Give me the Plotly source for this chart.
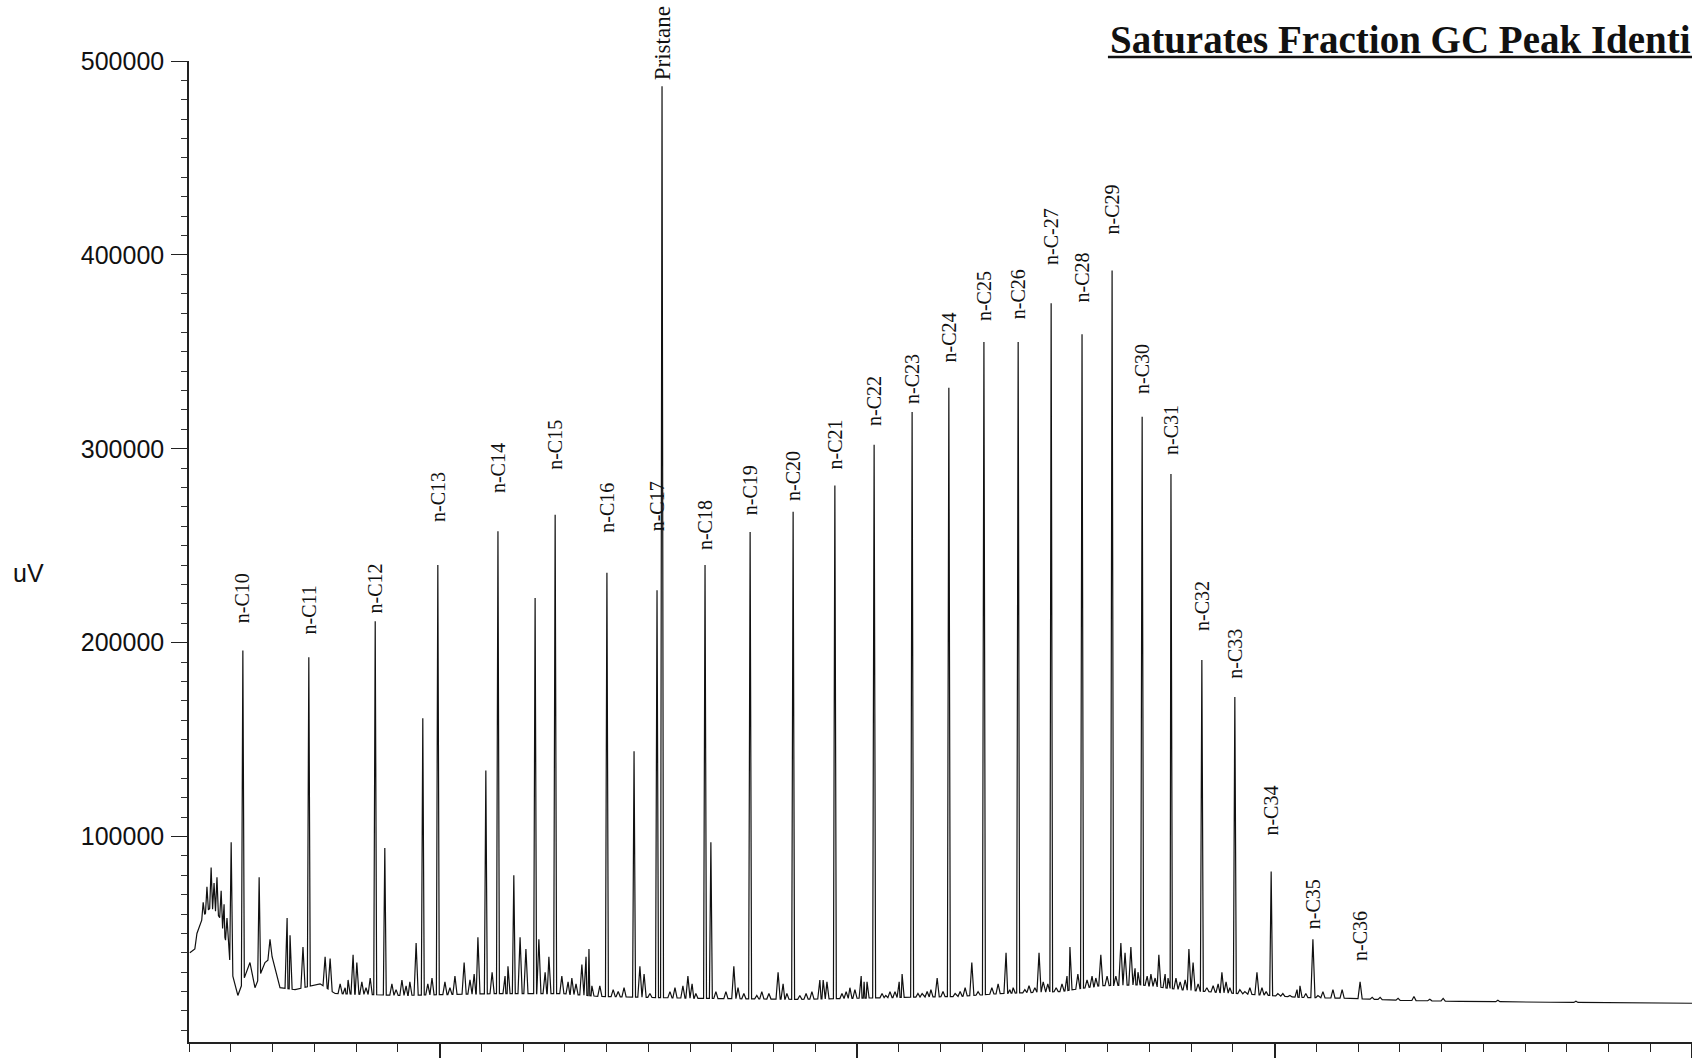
import numpy as np
import plotly.graph_objects as go

# ---------------- data ----------------
# labelled peaks: retention time (min) and height (uV)
peak_labels = ["n-C10", "n-C11", "n-C12", "n-C13", "n-C14", "n-C15", "n-C16", "n-C17",
               "Pristane", "n-C18", "n-C19", "n-C20", "n-C21", "n-C22", "n-C23", "n-C24",
               "n-C25", "n-C26", "n-C-27", "n-C28", "n-C29", "n-C30", "n-C31", "n-C32",
               "n-C33", "n-C34", "n-C35", "n-C36"]
peak_rt = [5.29, 6.87, 8.46, 9.96, 11.40, 12.77, 14.01, 15.21,
           15.33, 16.36, 17.44, 18.47, 19.47, 20.41, 21.32, 22.20,
           23.04, 23.86, 24.65, 25.39, 26.11, 26.83, 27.52, 28.26,
           29.05, 29.92, 30.92, 32.05]
peak_height = [196000, 192500, 211000, 240000, 257500, 266000, 236000, 227000,
               487000, 240000, 257000, 267500, 281000, 302000, 319000, 331500,
               355000, 355000, 375000, 359000, 392000, 316500, 287000, 191000,
               172000, 82000, 47000, 25000]

# unlabelled peaks (retention time, height)
other_rt = [4.19, 4.34, 4.43, 4.53, 4.60, 4.67, 4.77, 4.84, 4.91, 5.01, 5.68, 5.94, 6.35, 6.42,
            6.73, 7.26, 7.38, 7.62, 7.74, 7.81, 7.93, 8.02, 8.14, 8.24, 8.34, 8.69, 8.86, 8.96,
            9.10, 9.20, 9.29, 9.44, 9.60, 9.72, 9.82, 10.13, 10.25, 10.37, 10.59, 10.73, 10.83,
            10.92, 11.11, 11.26, 11.57, 11.64, 11.78, 11.93, 12.07, 12.29, 12.38, 12.53, 12.62,
            12.93, 13.08, 13.17, 13.27, 13.41, 13.51, 13.58, 13.65, 13.84, 14.16, 14.28, 14.42,
            14.66, 14.80, 14.90, 15.04, 15.52, 15.64, 15.83, 15.95, 16.05, 16.14, 16.50, 16.62,
            16.86, 17.05, 17.15, 17.29, 17.60, 17.72, 17.89, 18.11, 18.23, 18.32, 18.63, 18.78,
            18.92, 19.11, 19.19, 19.28, 19.64, 19.74, 19.83, 19.95, 20.10, 20.17, 20.24, 20.60,
            20.69, 20.79, 20.91, 21.01, 21.08, 21.46, 21.56, 21.68, 21.77, 21.92, 22.06, 22.35,
            22.47, 22.59, 22.75, 22.90, 23.23, 23.38, 23.57, 23.66, 23.74, 24.02, 24.12, 24.26,
            24.36, 24.46, 24.57, 24.77, 24.91, 25.03, 25.10, 25.29, 25.51, 25.63, 25.72, 25.84,
            25.99, 26.20, 26.32, 26.42, 26.56, 26.66, 26.73, 26.95, 27.04, 27.14, 27.23, 27.38,
            27.45, 27.64, 27.74, 27.86, 27.95, 28.05, 28.17, 28.38, 28.53, 28.65, 28.74, 28.84,
            28.93, 29.17, 29.29, 29.41, 29.58, 29.70, 29.80, 30.08, 30.20, 30.37, 30.54, 30.61,
            30.75, 31.04, 31.16, 31.40, 31.62, 32.34, 32.53, 32.96, 33.34, 33.72, 34.04, 35.35,
            37.22]
other_height = [50000, 66000, 74000, 84000, 76000, 79000, 72000, 65000, 58000, 97000, 79000, 47000, 58000, 49000,
                43000, 38000, 37000, 24000, 22000, 26000, 39000, 35000, 25000, 22000, 27000, 94000, 24000, 21000,
                26000, 23000, 25000, 45000, 161000, 24000, 27000, 25000, 22000, 28000, 35000, 26000, 29000,
                48000, 134000, 30000, 28000, 33000, 80000, 48000, 42000, 223000, 47000, 30000, 38000,
                28000, 25000, 27000, 24000, 34000, 38000, 42000, 23000, 23000, 21000, 20000, 22000,
                144000, 33000, 29000, 19000, 20000, 22000, 23000, 28000, 24000, 19000, 97000, 20000,
                20000, 33000, 22000, 19000, 18000, 20000, 19000, 30000, 24000, 19000, 18000, 19000,
                20000, 26000, 26000, 25000, 19000, 20000, 22000, 21000, 28000, 25000, 25000, 19000,
                18000, 20000, 20000, 25000, 29000, 19000, 19000, 20000, 21000, 27000, 20000, 19000,
                20000, 22000, 35000, 20000, 22000, 24000, 40000, 21000, 22000, 21000, 23000, 22000,
                40000, 25000, 24000, 22000, 24000, 28000, 43000, 29000, 26000, 28000, 27000, 39000,
                28000, 28000, 45000, 40000, 43000, 32000, 30000, 28000, 29000, 27000, 39000, 29000,
                27000, 27000, 25000, 26000, 42000, 35000, 24000, 22000, 23000, 24000, 30000, 25000,
                22000, 21000, 20000, 22000, 30000, 22000, 20000, 19000, 19000, 18000, 21000, 23000,
                19000, 18000, 20000, 21000, 21000, 17000, 17000, 16500, 17500, 16000, 16500, 15500,
                15000]

# baseline level of the trace (retention time, uV)
base_rt = [4.02, 4.14, 4.26, 4.38, 4.50, 4.62, 4.74, 4.86, 4.96, 5.05, 5.17, 5.46, 5.58, 5.82,
           5.99, 6.18, 6.54, 7.14, 7.50, 9.05, 11.45, 12.89, 13.84, 16.24, 18.63, 21.03, 22.47,
           23.43, 24.86, 25.82, 26.78, 27.74, 28.69, 29.89, 30.61, 31.81, 33.01, 34.44, 36.60, 40.00]
base_level = [40000, 42000, 55000, 60000, 63000, 62000, 58000, 48000, 38000, 28000, 18000, 35000,
              22000, 35000, 38000, 22000, 21000, 24000, 19000, 18000, 19000, 19000, 17500, 16500,
              16000, 17000, 17500, 19000, 20000, 23000, 23500, 21000, 19500, 18000, 17000, 16500,
              15500, 15000, 14500, 14000]

y_tick_values = [100000, 200000, 300000, 400000, 500000]

# ---------------- build the trace path ----------------
all_rt = np.array(peak_rt + other_rt, dtype=float)
all_h = np.array(peak_height + other_height, dtype=float)
half_w = np.where(all_h > 60000, 0.035, 0.05)
b_rt = np.array(base_rt, dtype=float)
b_lv = np.array(base_level, dtype=float)

pts = []
for t, v in zip(b_rt, b_lv):
    if np.all(np.abs(t - all_rt) > half_w):
        pts.append((t, v))
for t, h, w in zip(all_rt, all_h, half_w):
    pts.append((t - w, float(np.interp(t - w, b_rt, b_lv))))
    pts.append((t, h))
    pts.append((t + w, float(np.interp(t + w, b_rt, b_lv))))
pts.sort(key=lambda p: p[0])
xs = [p[0] for p in pts if 4.0 <= p[0] <= 40.0]
ys = [p[1] for p in pts if 4.0 <= p[0] <= 40.0]

fig = go.Figure()
fig.add_trace(go.Scatter(x=xs, y=ys, mode="lines",
                         line=dict(color="#111111", width=1.2),
                         hoverinfo="skip", showlegend=False))

label_shift = [25, 21, 6, 41, 36, 43, 38, 57, 4, 13, 15, 9, 14, 17, 6, 23,
               19, 21, 36, 30, 34, 21, 17, 27, 16, 34, 8, 19]
for lab, t, h, s in zip(peak_labels, peak_rt, peak_height, label_shift):
    fig.add_annotation(x=t, y=h, text=lab, textangle=-90, showarrow=False,
                       xanchor="center", yanchor="bottom", yshift=s,
                       font=dict(family="Liberation Serif", size=23 if lab == "Pristane" else 20,
                                 color="#111111"))

# title (as much of it as the scan shows)
fig.add_annotation(xref="paper", yref="paper", x=0.6114, y=1.0224, xanchor="left",
                   yanchor="middle", showarrow=False,
                   text="<b>Saturates Fraction GC Peak Identi</b>",
                   font=dict(family="Liberation Serif", size=39, color="#111111"))
fig.add_shape(type="line", xref="paper", yref="paper", x0=0.6114, x1=1.0, y0=1.004, y1=1.004,
              line=dict(color="#111111", width=2.5))

# y axis unit label
fig.add_annotation(xref="paper", yref="paper", x=-0.1184, y=0.478, xanchor="left",
                   yanchor="middle", showarrow=False, text="uV",
                   font=dict(family="Liberation Sans", size=25, color="#111111"))

fig.update_layout(
    width=1692, height=1058,
    margin=dict(l=189, r=0, t=61, b=16),
    paper_bgcolor="white", plot_bgcolor="white",
    showlegend=False,
    xaxis=dict(range=[4, 40], showgrid=False, zeroline=False,
               showline=True, linecolor="#222222", linewidth=1.5,
               ticks="outside", tick0=0, dtick=10, ticklen=16, tickcolor="#222222", tickwidth=1.5,
               showticklabels=False,
               minor=dict(ticks="outside", tick0=0, dtick=1, ticklen=8,
                          tickcolor="#222222", tickwidth=1.2)),
    yaxis=dict(range=[-6000, 500000], showgrid=False, zeroline=False,
               showline=True, linecolor="#222222", linewidth=1.5,
               ticks="outside", tickmode="array", tickvals=y_tick_values,
               ticktext=[str(v) for v in y_tick_values],
               ticklen=16, tickcolor="#222222", tickwidth=1.2,
               tickfont=dict(family="Liberation Sans", size=25, color="#111111"),
               ticklabelstandoff=2,
               minor=dict(ticks="outside", tickmode="linear", tick0=0, dtick=10000, ticklen=6,
                          tickcolor="#333333", tickwidth=1)),
)

fig.write_html("out.html", config={"displayModeBar": False},
               post_script="document.body.style.margin='0';document.body.style.overflow='hidden';")
